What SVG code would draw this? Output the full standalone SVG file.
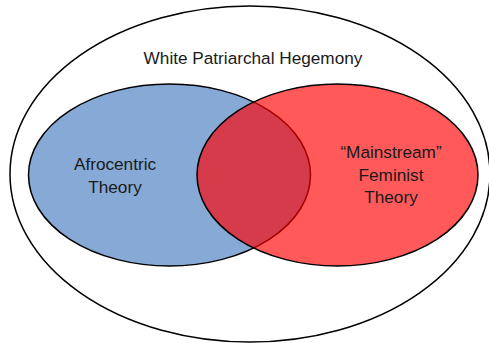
<svg xmlns="http://www.w3.org/2000/svg" width="489" height="343" viewBox="0 0 489 343">
<style>
.lbl{font-family:"Liberation Sans",Arial,sans-serif;font-size:17.2px;fill:#1a1a1a;text-anchor:middle}
.edge{stroke:#000;stroke-width:1.5}
</style>
<rect width="489" height="343" fill="#fff"/>
<g id="hegemony">
<ellipse class="edge" cx="250" cy="174" rx="240" ry="168" fill="#fff"/>
<text class="lbl" x="253" y="64">White Patriarchal Hegemony</text>
</g>
<g id="afrocentric">
<ellipse class="edge" cx="169.5" cy="175" rx="141" ry="91" fill="#87a9d6"/>
</g>
<g id="feminist">
<ellipse class="edge" cx="337.5" cy="175" rx="140.5" ry="91" fill="#ff0000" fill-opacity="0.65"/>
</g>
<g id="labels">
<text class="lbl" x="115" y="170">Afrocentric</text>
<text class="lbl" x="115" y="193">Theory</text>
<text class="lbl" x="391" y="158">“Mainstream”</text>
<text class="lbl" x="391" y="181">Feminist</text>
<text class="lbl" x="391" y="203">Theory</text>
</g>
<g id="connectors"></g>
</svg>
